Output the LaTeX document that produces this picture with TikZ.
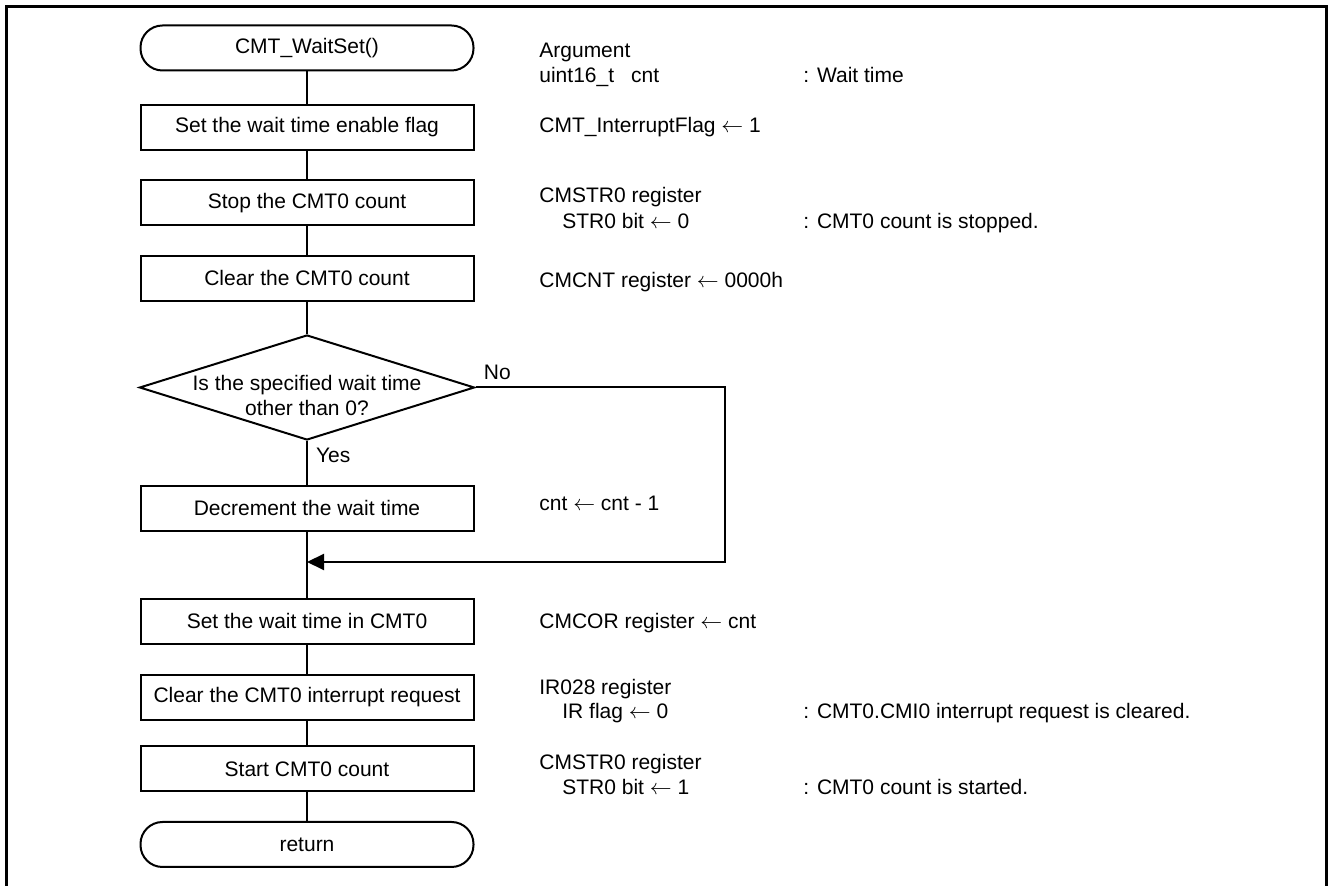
\documentclass[tikz,border=0pt]{standalone}
\usepackage{fontspec}
\setmainfont{Liberation Sans}
\usetikzlibrary{positioning, arrows.meta, shapes.geometric}

\begin{document}
\begin{tikzpicture}[
  x=0.5pt, y=-0.5pt,
  font=\fontsize{10.5}{12.5}\selectfont,
  proc/.style={draw, line width=1pt, minimum width=166.5pt, minimum height=22.5pt, inner sep=1pt},
  term/.style={proc, rounded corners=11pt},
  decide/.style={draw, diamond, aspect=3.19, line width=1pt, minimum width=167.5pt, minimum height=52.5pt,
    inner sep=0pt, inner xsep=-30pt, align=center},
  note/.style={anchor=base west, inner sep=0pt},
  flow/.style={line width=1pt},
]
  \useasboundingbox (0,0) rectangle (1330,886);
  \draw[line width=1.5pt] (6.5,886) -- (6.5,6.5) -- (1326.5,6.5) -- (1326.5,886);

  \node[term]   (start)    at (307, 48)    {CMT\_WaitSet()};
  \node[proc]   (flag)     at (307, 127.5) {Set the wait time enable flag};
  \node[proc]   (stop)     at (307, 203)   {Stop the CMT0 count};
  \node[proc]   (clear)    at (307, 278.5) {Clear the CMT0 count};
  \node[decide] (check)    at (307, 387.5) {\rule{0pt}{16pt}Is the specified wait time\\other than 0?};
  \node[proc]   (decr)     at (307, 508.5) {Decrement the wait time};
  \node[proc]   (setcor)   at (307, 621.5) {Set the wait time in CMT0};
  \node[proc]   (clrir)    at (307, 697.5) {Clear the CMT0 interrupt request};
  \node[proc]   (startcnt) at (307, 769)   {Start CMT0 count};
  \node[term]   (ret)      at (307, 844.5) {return};

  \coordinate (merge)  at (307, 562);
  \coordinate (noturn) at (725, 562);

  \draw[flow] (start) -- (flag);
  \draw[flow] (flag) -- (stop);
  \draw[flow] (stop) -- (clear);
  \draw[flow] (clear) -- (check);
  \draw[flow] (check) -- node[pos=0.33, anchor=west, inner sep=0pt, xshift=4pt] (yes) {Yes} (decr);
  \draw[flow] (decr) -- (setcor);
  \draw[flow] (setcor) -- (clrir);
  \draw[flow] (clrir) -- (startcnt);
  \draw[flow] (startcnt) -- (ret);
  \draw[flow, -{Triangle[length=8.5pt, width=8pt]}] (check.east) -| (noturn) -- (merge);
  \node[note] (no) at ([xshift=4pt, yshift=4pt]check.east) {No};

  \node[note] (arghead)   at (539, 58)  {Argument};
  \node[note] (argcnt)    at (539, 83)  {uint16\_t\hspace{8.5pt}cnt};
  \node[note] (argdesc)   at (803, 83)  {: Wait time};
  \node[note] (flagset)   at (539, 133) {CMT\_InterruptFlag $\leftarrow$ 1};
  \node[note] (stopreg)   at (539, 203) {CMSTR0 register};
  \node[note] (stopbit)   at (562, 229) {STR0 bit $\leftarrow$ 0};
  \node[note] (stopdesc)  at (803, 229) {: CMT0 count is stopped.};
  \node[note] (cntclr)    at (539, 288) {CMCNT register $\leftarrow$ 0000h};
  \node[note] (decrset)   at (539, 511) {cnt $\leftarrow$ cnt - 1};
  \node[note] (corset)    at (539, 629) {CMCOR register $\leftarrow$ cnt};
  \node[note] (irreg)     at (539, 695) {IR028 register};
  \node[note] (irflag)    at (562, 719) {IR flag $\leftarrow$ 0};
  \node[note] (irdesc)    at (803, 719) {: CMT0.CMI0 interrupt request is cleared.};
  \node[note] (startreg)  at (539, 770) {CMSTR0 register};
  \node[note] (startbit)  at (562, 795) {STR0 bit $\leftarrow$ 1};
  \node[note] (startdesc) at (803, 795) {: CMT0 count is started.};
\end{tikzpicture}
\end{document}
